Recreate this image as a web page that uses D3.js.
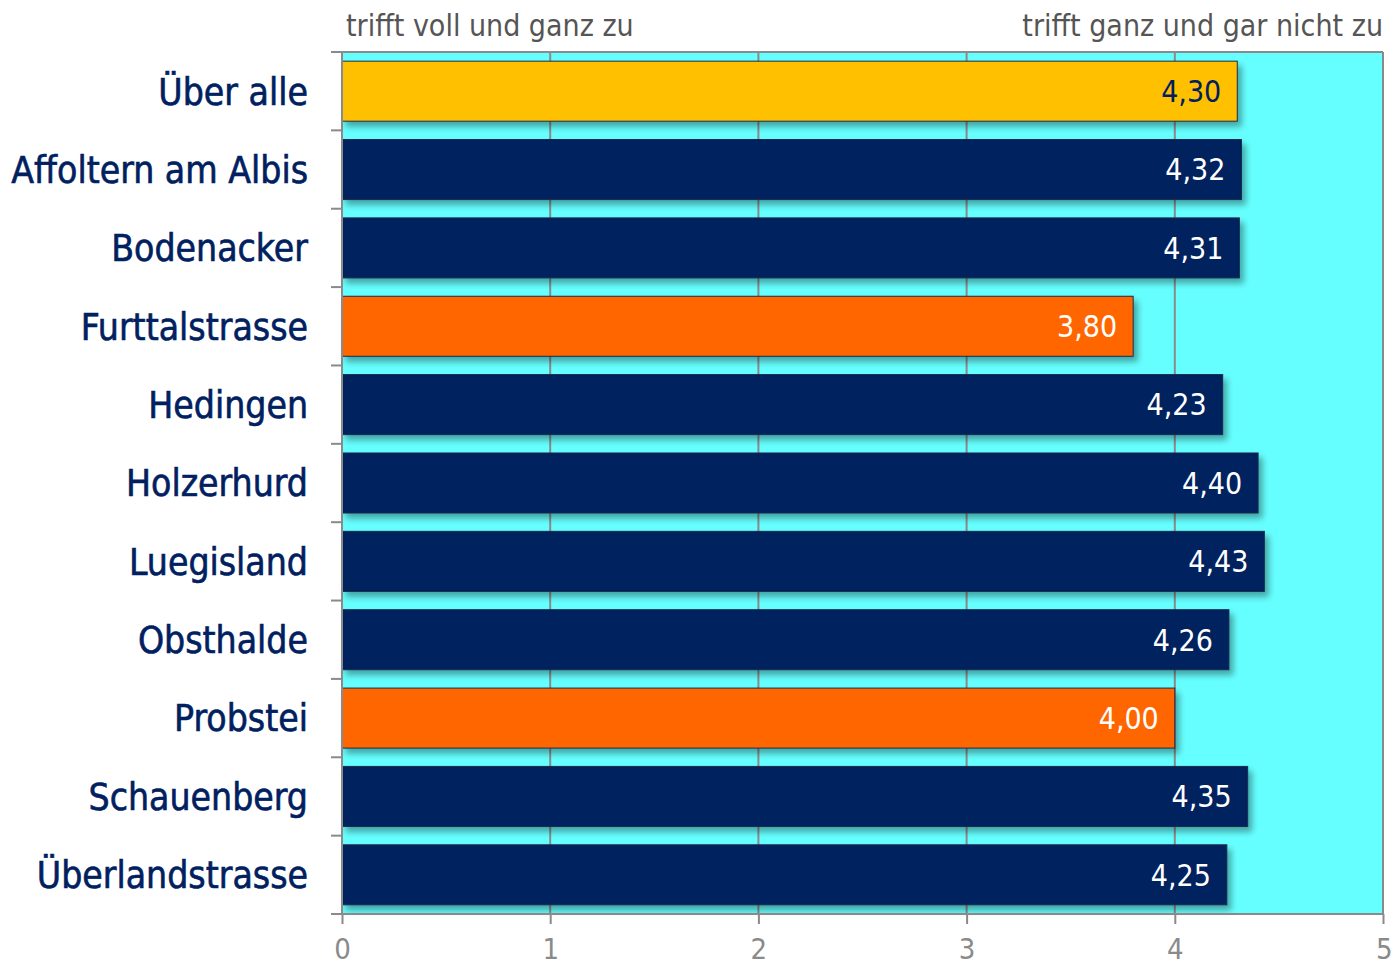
<!DOCTYPE html>
<html>
<head>
<meta charset="utf-8">
<script src="https://cdn.jsdelivr.net/npm/d3@7"></script>
<style>
  html, body { margin: 0; padding: 0; background: #ffffff; }
  svg { display: block; }
</style>
</head>
<body>
<svg id="chart" width="1393" height="969"></svg>
<script>
// Kategorien und Mittelwerte
const categories = ["Über alle", "Affoltern am Albis", "Bodenacker", "Furttalstrasse", "Hedingen",
  "Holzerhurd", "Luegisland", "Obsthalde", "Probstei", "Schauenberg", "Überlandstrasse"];
const values = [4.30, 4.32, 4.31, 3.80, 4.23, 4.40, 4.43, 4.26, 4.00, 4.35, 4.25];
// Farbgruppe je Balken: gesamt, normal, auffällig
const groups = ["total", "normal", "normal", "low", "normal", "normal", "normal", "normal", "low", "normal", "normal"];
const xTicks = [0, 1, 2, 3, 4, 5];
const scaleLabels = ["trifft voll und ganz zu", "trifft ganz und gar nicht zu"];

const fillColor = { total: "#FFC000", normal: "#00205F", low: "#FF6600" };
const labelColor = { total: "#00205F", normal: "#ffffff", low: "#ffffff" };

const margin = { top: 52, right: 10, bottom: 55, left: 342 };
const W = 1393, H = 969;
const svg = d3.select("#chart");

const x = d3.scaleLinear().domain([0, 5]).range([margin.left, W - margin.right]);
const y = d3.scaleBand().domain(categories).range([margin.top, H - margin.bottom]).paddingInner(0.234).paddingOuter(0.117);
const band = d3.scaleBand().domain(categories).range([margin.top, H - margin.bottom]);

const defs = svg.append("defs");
const f = defs.append("filter").attr("id", "shadow").attr("x", "-5%").attr("y", "-20%").attr("width", "115%").attr("height", "160%");
f.append("feDropShadow").attr("dx", 4).attr("dy", 5).attr("stdDeviation", 3)
  .attr("flood-color", "#000").attr("flood-opacity", 0.35);

const font = "'DejaVu Sans Condensed', 'Roboto', sans-serif";

// Plotfläche
svg.append("rect")
  .attr("x", x(0)).attr("y", margin.top)
  .attr("width", x(5) - x(0)).attr("height", H - margin.bottom - margin.top)
  .attr("fill", "#66FFFF");

// Vertikale Gitterlinien
svg.append("g").selectAll("line").data(xTicks.slice(1)).join("line")
  .attr("x1", d => x(d)).attr("x2", d => x(d))
  .attr("y1", margin.top).attr("y2", H - margin.bottom)
  .attr("stroke", "#8a8a8a").attr("stroke-width", 2);

// Rahmen oben
svg.append("line")
  .attr("x1", x(0) - 11).attr("x2", x(5)).attr("y1", margin.top).attr("y2", margin.top)
  .attr("stroke", "#8a8a8a").attr("stroke-width", 2);

// Balken
svg.append("g").selectAll("rect").data(categories).join("rect")
  .attr("x", x(0))
  .attr("y", d => y(d))
  .attr("width", (d, i) => x(values[i]) - x(0))
  .attr("height", y.bandwidth())
  .attr("fill", (d, i) => fillColor[groups[i]])
  .attr("stroke", "#1b2a4a").attr("stroke-width", 1)
  .attr("filter", "url(#shadow)");

// Wertbeschriftungen
svg.append("g").selectAll("text").data(categories).join("text")
  .attr("x", (d, i) => x(values[i]) - 16)
  .attr("y", d => y(d) + y.bandwidth() / 2)
  .attr("dy", "0.36em")
  .attr("text-anchor", "end")
  .attr("font-family", font)
  .attr("font-size", 30)
  .attr("fill", (d, i) => labelColor[groups[i]])
  .text((d, i) => values[i].toFixed(2).replace(".", ","));

// X-Achse
const xAxis = d3.axisBottom(x).tickValues(xTicks).tickSize(10).tickPadding(14).tickFormat(d => d);
const gx = svg.append("g").attr("transform", `translate(0,${H - margin.bottom})`).call(xAxis);
gx.select(".domain").remove();
gx.append("line").attr("x1", x(0) - 11).attr("x2", x(5)).attr("stroke", "#8a8a8a").attr("stroke-width", 2);
gx.selectAll(".tick line").attr("stroke", "#8a8a8a").attr("stroke-width", 2);
gx.selectAll(".tick text").attr("font-family", font).attr("font-size", 29).attr("fill", "#8a8a8a").attr("dy", "0.71em");
gx.selectAll(".tick").filter(d => d === 5).select("text").attr("text-anchor", "end").attr("x", 9);

// Y-Achse mit Teilstrichen an den Bandgrenzen
svg.append("line")
  .attr("x1", x(0)).attr("x2", x(0)).attr("y1", margin.top).attr("y2", H - margin.bottom)
  .attr("stroke", "#8a8a8a").attr("stroke-width", 2);
svg.append("g").selectAll("line").data(categories.slice(1)).join("line")
  .attr("x1", x(0) - 11).attr("x2", x(0))
  .attr("y1", d => band(d)).attr("y2", d => band(d))
  .attr("stroke", "#8a8a8a").attr("stroke-width", 2);

// Kategorienamen
svg.append("g").selectAll("text").data(categories).join("text")
  .attr("x", 308)
  .attr("y", d => y(d) + y.bandwidth() / 2)
  .attr("dy", "0.36em")
  .attr("text-anchor", "end")
  .attr("font-family", font)
  .attr("font-size", 37)
  .attr("fill", "#00205F")
  .attr("stroke", "#00205F").attr("stroke-width", 0.6)
  .text(d => d);

// Skalenbeschriftung oben
svg.append("text").attr("x", 346).attr("y", 36)
  .attr("font-family", font).attr("font-size", 30).attr("fill", "#555555")
  .text(scaleLabels[0]);
svg.append("text").attr("x", 1383).attr("y", 36).attr("text-anchor", "end")
  .attr("font-family", font).attr("font-size", 30).attr("fill", "#555555")
  .text(scaleLabels[1]);
</script>
</body>
</html>
